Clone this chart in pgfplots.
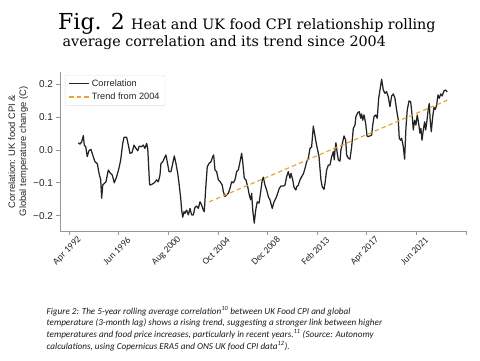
\documentclass[border=0pt]{standalone}
\usepackage{fontspec}
\setmainfont{Liberation Sans}
\newfontfamily\titlefont{DejaVu Serif}
\newfontfamily\carlito{Carlito}
\usepackage{pgfplots}
\pgfplotsset{compat=1.18}
\definecolor{corrline}{RGB}{35,35,35}
\definecolor{trendc}{RGB}{230,166,56}
\definecolor{spine}{RGB}{150,150,150}
\begin{document}
\begin{tikzpicture}
\path[use as bounding box] (0pt,0pt) rectangle (480pt,360pt);
% Title
\node[anchor=base west,inner sep=0pt] at (58pt,330.5pt) {\titlefont\fontsize{22}{24}\selectfont Fig. 2};
\node[anchor=base west,inner sep=0pt] at (131pt,330.5pt) {\titlefont\fontsize{14.3}{16}\selectfont Heat and UK food CPI relationship rolling};
\node[anchor=base west,inner sep=0pt] at (62.5pt,313.3pt) {\titlefont\fontsize{14.3}{16}\selectfont average correlation and its trend since 2004};
\begin{axis}[
  at={(60pt,129pt)}, anchor=south west,
  scale only axis, width=407pt, height=159pt,
  xmin=1991.47, xmax=2025.66, ymin=-0.247, ymax=0.238,
  axis lines=left, axis line style={-, spine, line width=0.8pt},
  tick align=outside, major tick length=3.5pt,
  tick style={spine, line width=0.8pt},
  xtick={1992.25,1996.4167,2000.5833,2004.75,2008.9167,2013.0833,2017.25,2021.4167,2025.5833},
  xticklabels={Apr 1992,Jun 1996,Aug 2000,Oct 2004,Dec 2008,Feb 2013,Apr 2017,Jun 2021,{}},
  ytick={-0.2,-0.1,0,0.1,0.2},
  yticklabels={−0.2,−0.1,0.0,0.1,0.2},
  /pgf/number format/assume math mode=true,
  yticklabel style={font=\fontsize{10}{12}\selectfont, text=black!85},
  xticklabel style={font=\carlito\fontsize{9.5}{11}\selectfont, text=black!85, xshift=-2pt, yshift=-16.5pt, rotate=45, anchor=center},
  ylabel={Correlation: UK food CPI \&\\Global temperature change (C)},
  ylabel style={align=center, font=\fontsize{9.4}{11}\selectfont, text=black!85, at={(axis description cs:-0.103,0.5)}, anchor=center},
  legend style={at={(0.012,0.981)}, anchor=north west, draw=black!12, rounded corners=2pt, font=\fontsize{9.2}{10.5}\selectfont, text=black!85, inner xsep=3.5pt, inner ysep=2.5pt, row sep=1pt},
  legend cell align=left,
  legend image code/.code={\draw[#1] (0pt,0pt) -- (20pt,0pt);},
]
\addplot[corrline, line width=1.25pt, line join=round] coordinates {
(1993.01,0.022) (1993.15,0.018) (1993.29,0.025) (1993.43,0.044) (1993.51,0.015) (1993.63,0.010)
(1993.76,-0.020) (1993.90,-0.002) (1994.07,0.002) (1994.22,-0.015) (1994.41,-0.036) (1994.60,-0.041)
(1994.75,-0.071) (1994.89,-0.091) (1994.97,-0.147) (1995.06,-0.107) (1995.19,-0.102) (1995.33,-0.097)
(1995.53,-0.061) (1995.67,-0.069) (1995.86,-0.076) (1996.03,-0.100) (1996.23,-0.081) (1996.42,-0.056)
(1996.57,-0.030) (1996.74,0.020) (1996.85,0.039) (1997.07,0.039) (1997.24,0.010) (1997.35,-0.010)
(1997.52,-0.008) (1997.69,0.015) (1997.85,0.005) (1998.00,-0.002) (1998.13,0.012) (1998.30,0.010)
(1998.47,0.015) (1998.61,0.005) (1998.75,0.020) (1998.84,0.005) (1998.89,-0.030) (1998.99,-0.102)
(1999.03,-0.107) (1999.22,-0.104) (1999.39,-0.100) (1999.59,-0.091) (1999.73,-0.097) (1999.87,-0.076)
(1999.95,-0.041) (2000.10,-0.036) (2000.23,-0.025) (2000.37,-0.015) (2000.48,-0.036) (2000.63,-0.066)
(2000.79,-0.066) (2000.94,-0.041) (2001.07,-0.018) (2001.21,-0.041) (2001.36,-0.071) (2001.47,-0.102)
(2001.61,-0.147) (2001.69,-0.183) (2001.78,-0.205) (2001.89,-0.188) (2001.97,-0.193) (2002.11,-0.183)
(2002.25,-0.198) (2002.39,-0.178) (2002.53,-0.198) (2002.67,-0.198) (2002.81,-0.175) (2002.95,-0.171)
(2003.09,-0.178) (2003.23,-0.158) (2003.37,-0.168) (2003.51,-0.183) (2003.59,-0.188) (2003.71,-0.117)
(2003.84,-0.051) (2003.99,-0.041) (2004.15,-0.036) (2004.30,-0.020) (2004.38,-0.015) (2004.49,-0.061)
(2004.63,-0.066) (2004.77,-0.091) (2004.93,-0.097) (2005.10,-0.107) (2005.19,-0.127) (2005.33,-0.142)
(2005.47,-0.137) (2005.61,-0.132) (2005.75,-0.117) (2005.89,-0.097) (2006.03,-0.100) (2006.17,-0.091)
(2006.31,-0.066) (2006.45,-0.061) (2006.59,-0.036) (2006.73,-0.010) (2006.82,-0.036) (2006.95,-0.086)
(2007.09,-0.091) (2007.24,-0.112) (2007.37,-0.137) (2007.49,-0.152) (2007.57,-0.132) (2007.66,-0.183)
(2007.79,-0.223) (2007.91,-0.183) (2008.04,-0.158) (2008.19,-0.162) (2008.33,-0.127) (2008.46,-0.091)
(2008.55,-0.083) (2008.69,-0.107) (2008.83,-0.122) (2008.97,-0.142) (2009.11,-0.152) (2009.30,-0.178)
(2009.45,-0.158) (2009.61,-0.147) (2009.76,-0.132) (2009.89,-0.117) (2010.03,-0.110) (2010.23,-0.110)
(2010.37,-0.107) (2010.51,-0.081) (2010.65,-0.066) (2010.79,-0.086) (2010.87,-0.071) (2011.02,-0.091)
(2011.13,-0.114) (2011.29,-0.122) (2011.35,-0.112) (2011.49,-0.107) (2011.63,-0.091) (2011.77,-0.081)
(2011.91,-0.073) (2012.05,-0.056) (2012.19,-0.036) (2012.33,-0.025) (2012.47,0.005) (2012.61,0.010)
(2012.75,0.073) (2012.83,0.056) (2012.95,0.030) (2013.08,0.005) (2013.23,-0.020) (2013.31,-0.056)
(2013.39,-0.091) (2013.50,-0.112) (2013.65,-0.120) (2013.73,-0.102) (2013.87,-0.061) (2014.01,-0.046)
(2014.15,-0.046) (2014.29,-0.020) (2014.43,-0.005) (2014.51,-0.030) (2014.57,0.000) (2014.65,0.022)
(2014.76,-0.010) (2014.85,-0.030) (2014.99,-0.034) (2015.07,0.000) (2015.22,0.025) (2015.33,0.043)
(2015.47,0.030) (2015.55,-0.015) (2015.69,-0.025) (2015.83,-0.028) (2015.97,0.010) (2016.11,0.066)
(2016.25,0.076) (2016.33,0.102) (2016.48,0.114) (2016.61,0.117) (2016.73,0.097) (2016.81,0.110)
(2016.90,0.091) (2017.01,0.107) (2017.15,0.081) (2017.26,0.043) (2017.37,0.041) (2017.51,0.043)
(2017.65,0.046) (2017.74,0.076) (2017.85,0.102) (2017.99,0.107) (2018.12,0.097) (2018.24,0.158)
(2018.35,0.183) (2018.49,0.216) (2018.63,0.183) (2018.77,0.173) (2018.91,0.178) (2019.05,0.162)
(2019.19,0.132) (2019.33,0.165) (2019.47,0.171) (2019.61,0.158) (2019.75,0.122) (2019.89,0.091)
(2019.97,0.036) (2020.09,0.030) (2020.17,0.036) (2020.31,0.010) (2020.42,-0.028) (2020.53,0.066)
(2020.64,0.122) (2020.79,0.150) (2020.93,0.147) (2021.06,0.102) (2021.15,0.061) (2021.26,0.091)
(2021.37,0.076) (2021.48,0.107) (2021.60,0.081) (2021.71,0.051) (2021.79,0.066) (2021.88,0.030)
(2021.99,0.061) (2022.10,0.086) (2022.19,0.061) (2022.30,0.091) (2022.41,0.127) (2022.49,0.142)
(2022.57,0.091) (2022.66,0.056) (2022.78,0.102) (2022.89,0.130) (2022.99,0.124) (2023.11,0.137)
(2023.22,0.168) (2023.33,0.158) (2023.45,0.171) (2023.58,0.165) (2023.73,0.181) (2023.87,0.183)
(2024.00,0.177)
};
\addlegendentry{Correlation}
\addplot[trendc, line width=1.2pt, dash pattern=on 4.5pt off 3pt] coordinates {(2004.0,-0.158) (2024.0,0.152)};
\addlegendentry{Trend from 2004}
\end{axis}
% Caption
\begin{scope}[every node/.style={anchor=base west, inner sep=0pt, font=\carlito\itshape\fontsize{9.15}{11}\selectfont, text=black!90}]
\node at (46.5pt,46pt) {Figure 2: The 5-year rolling average correlation\textsuperscript{10} between UK Food CPI and global};
\node at (46.5pt,34.3pt) {temperature (3-month lag) shows a rising trend, suggesting a stronger link between higher};
\node at (46.5pt,22.6pt) {temperatures and food price increases, particularly in recent years.\textsuperscript{11} (Source: Autonomy};
\node at (46.5pt,10.9pt) {calculations, using Copernicus ERA5 and ONS UK food CPI data\textsuperscript{12}).};
\end{scope}
\end{tikzpicture}
\end{document}
